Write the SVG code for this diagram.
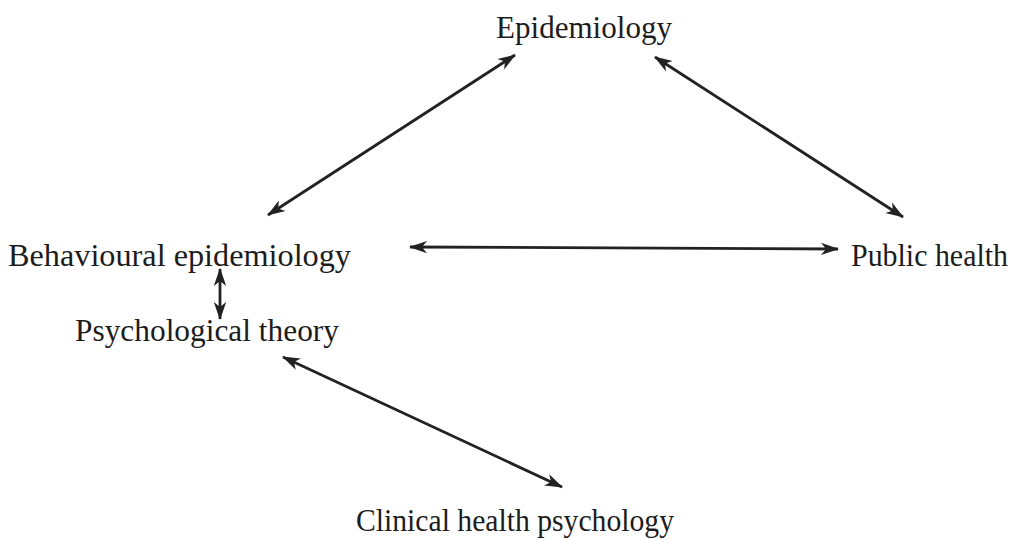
<svg xmlns="http://www.w3.org/2000/svg" width="1017" height="540" viewBox="0 0 1017 540">
  <style>
    .label { font-family: "Liberation Serif", "Times New Roman", serif; font-size: 32.5px; fill: #1c1c1c; }
    .label.edge { font-size: 31px; }
    .link { stroke: #222; stroke-width: 2.8; fill: none; marker-start: url(#head); marker-end: url(#head); }
  </style>
  <defs>
    <marker id="head" viewBox="0 0 18 14" refX="17" refY="7" markerWidth="18" markerHeight="14" markerUnits="userSpaceOnUse" orient="auto-start-reverse">
      <path d="M0,0.8 L18,7 L0,13.2 L5,7 Z" fill="#222"/>
    </marker>
  </defs>
  <rect width="1017" height="540" fill="#ffffff"/>

  <g id="connectors">
    <line class="link" x1="268" y1="215" x2="515" y2="55"/>
    <line class="link" x1="655" y1="57" x2="903" y2="217"/>
    <line class="link" x1="410" y1="247" x2="838" y2="249"/>
    <line class="link" x1="220" y1="269" x2="220" y2="319"/>
    <line class="link" x1="283" y1="357" x2="562" y2="487"/>
  </g>

  <g id="epidemiology">
    <text class="label" x="496" y="38" textLength="176" lengthAdjust="spacingAndGlyphs">Epidemiology</text>
  </g>
  <g id="behavioural-epidemiology">
    <text class="label" x="8" y="266" textLength="343" lengthAdjust="spacingAndGlyphs">Behavioural epidemiology</text>
  </g>
  <g id="public-health">
    <text class="label edge" x="851" y="266" textLength="157" lengthAdjust="spacingAndGlyphs">Public health</text>
  </g>
  <g id="psychological-theory">
    <text class="label" x="75" y="341" textLength="264" lengthAdjust="spacingAndGlyphs">Psychological theory</text>
  </g>
  <g id="clinical-health-psychology">
    <text class="label" x="356" y="531" textLength="318" lengthAdjust="spacingAndGlyphs">Clinical health psychology</text>
  </g>
</svg>
